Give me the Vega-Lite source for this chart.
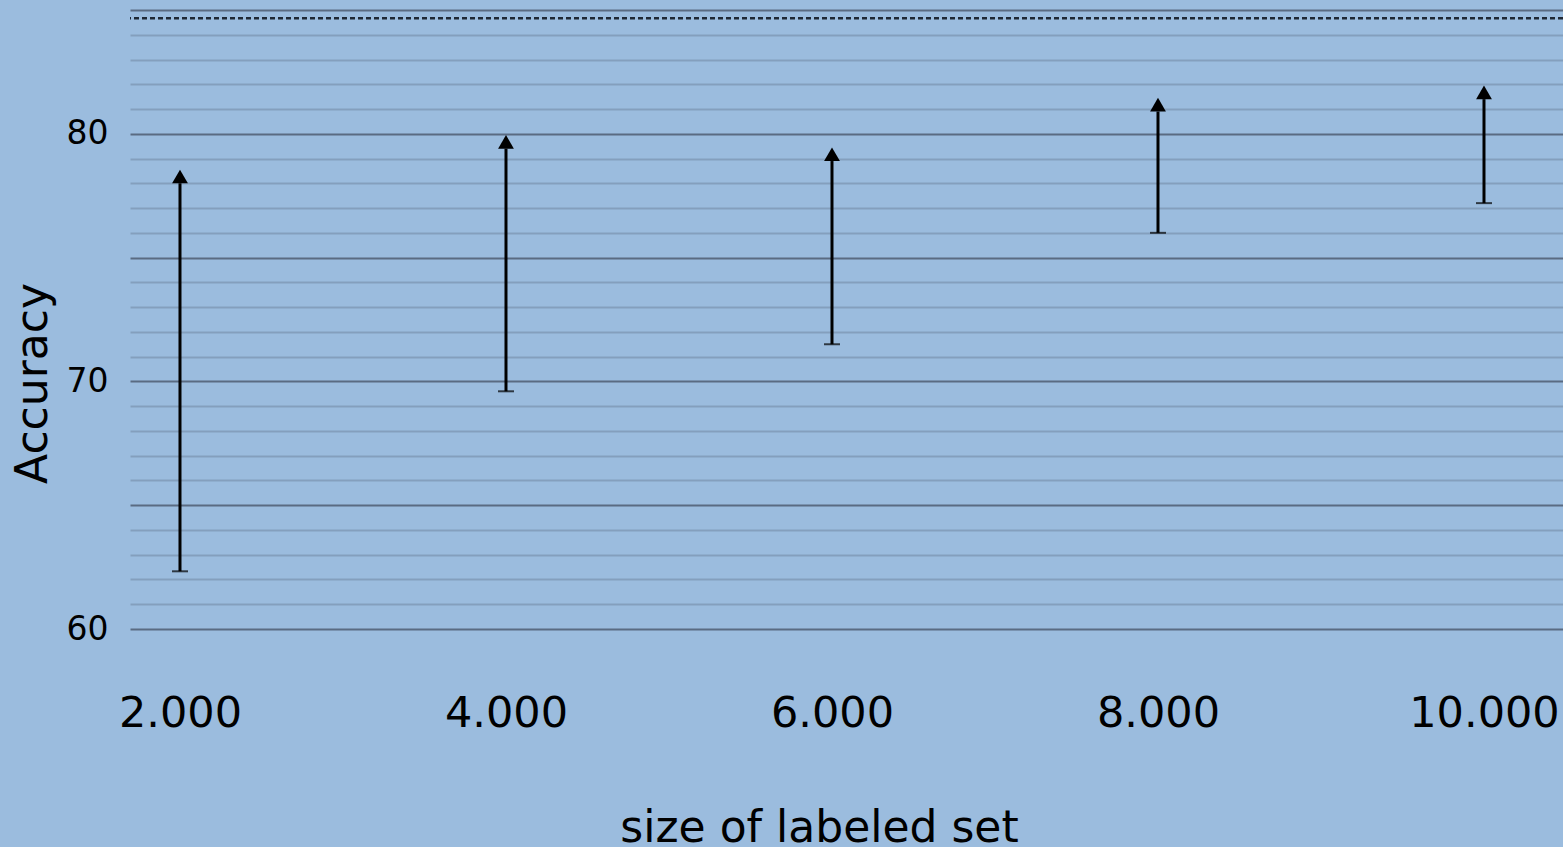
{
  "$schema": "https://vega.github.io/schema/vega-lite/v6.json",
  "width": 1433,
  "height": 619,
  "autosize": {"type": "none"},
  "padding": {"left": 130, "top": 10, "right": 0, "bottom": 218},
  "background": "#9bbcde",
  "config": {
    "view": {"stroke": null},
    "font": "DejaVu Sans",
    "axis": {"labelFont": "DejaVu Sans", "titleFont": "DejaVu Sans", "labelColor": "#000000", "titleColor": "#000000", "titleFontWeight": "normal"}
  },
  "datasets": {
    "arrows": [
      {"size": 2000, "low": 62.33, "high": 78.0},
      {"size": 4000, "low": 69.6, "high": 79.4},
      {"size": 6000, "low": 71.5, "high": 78.9},
      {"size": 8000, "low": 76.0, "high": 80.9},
      {"size": 10000, "low": 77.2, "high": 81.4}
    ],
    "ref": [{"acc": 84.67}]
  },
  "layer": [
    {
      "data": {"name": "arrows"},
      "mark": {"type": "rule", "color": "#000000", "strokeWidth": 3},
      "encoding": {
        "x": {
          "field": "size", "type": "quantitative",
          "scale": {"domain": [1693.3, 10484.7], "nice": false, "zero": false},
          "axis": {
            "values": [2000, 4000, 6000, 8000, 10000],
            "tickCount": 10,
            "labelExpr": "replace(format(datum.value, ','), ',', '.')",
            "labelFontSize": 43,
            "labelPadding": 63,
            "ticks": false,
            "domain": false,
            "grid": false,
            "title": "size of labeled set",
            "titleFontSize": 44,
            "titleBaseline": "alphabetic",
            "titleX": 689,
            "titleY": 212,
            "titleAnchor": null,
            "titleAlign": "center"
          }
        },
        "y": {
          "field": "low", "type": "quantitative",
          "scale": {"domain": [60, 85], "nice": false, "zero": false},
          "axis": {
            "values": [60, 61, 62, 63, 64, 65, 66, 67, 68, 69, 70, 71, 72, 73, 74, 75, 76, 77, 78, 79, 80, 81, 82, 83, 84, 85],
            "tickCount": 40,
            "format": "d",
            "labelExpr": "datum.value % 10 === 0 && datum.value < 85 ? datum.label : ''",
            "labelFontSize": 33,
            "labelPadding": 22,
            "labelOverlap": false,
            "ticks": false,
            "domain": false,
            "grid": true,
            "gridColor": {"condition": {"test": "datum.value % 5 === 0", "value": "#5a6b82"}, "value": "#849fbd"},
            "gridWidth": 2,
            "gridOpacity": 1,
            "title": "Accuracy",
            "titleFontSize": 44,
            "titleAngle": -90,
            "titleBaseline": "alphabetic",
            "titleAlign": "center",
            "titleAnchor": null,
            "titleX": -84,
            "titleY": 373
          }
        },
        "y2": {"field": "high"}
      }
    },
    {
      "data": {"name": "arrows"},
      "mark": {"type": "tick", "orient": "horizontal", "color": "#000000", "size": 16, "thickness": 2},
      "encoding": {
        "x": {"field": "size", "type": "quantitative"},
        "y": {"field": "low", "type": "quantitative"}
      }
    },
    {
      "data": {"name": "arrows"},
      "mark": {"type": "point", "shape": "triangle-up", "filled": true, "color": "#000000", "opacity": 1, "size": 250, "yOffset": -6.8},
      "encoding": {
        "x": {"field": "size", "type": "quantitative"},
        "y": {"field": "high", "type": "quantitative"}
      }
    },
    {
      "data": {"name": "ref"},
      "mark": {"type": "rule", "color": "#1f2835", "strokeWidth": 2.5, "strokeDash": [5, 3]},
      "encoding": {
        "y": {"field": "acc", "type": "quantitative"}
      }
    }
  ]
}
